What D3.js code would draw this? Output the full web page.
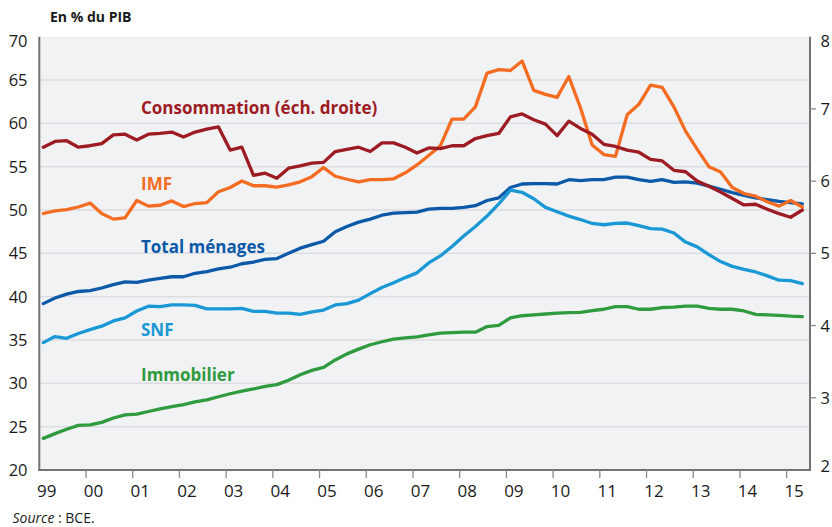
<!DOCTYPE html>
<html>
<head>
<meta charset="utf-8">
<script src="https://cdn.jsdelivr.net/npm/d3@7"></script>
<style>
  html, body { margin: 0; padding: 0; background: #ffffff; }
  svg { display: block; font-family: "Open Sans", "Noto Sans", sans-serif; }
</style>
</head>
<body>
<svg id="chart" width="832" height="527"></svg>
<script>
// ---------- DATA (quarterly, 1999T1 -> 2015T2) ----------
const startYear = 1999;
const nQuarters = 66;
const quarters = d3.range(nQuarters).map(i => (startYear + Math.floor(i / 4)) + "T" + (i % 4 + 1));

const yearLabels = ["99","00","01","02","03","04","05","06","07","08","09","10","11","12","13","14","15"];
const leftTicks = [20,25,30,35,40,45,50,55,60,65,70];
const rightTicks = [2,3,4,5,6,7,8];

// Total ménages (% du PIB, left axis)
const totalMenages = [
  39.2,39.85,40.3,40.6, 40.7,41.0,41.4,41.7, 41.65,41.9,42.1,42.3, 42.3,42.7,42.9,43.2,
  43.4,43.8,44.0,44.3, 44.4,45.0,45.6,46.0, 46.4,47.5,48.1,48.6, 48.95,49.4,49.65,49.7,
  49.75,50.1,50.2,50.2, 50.3,50.5,51.1,51.4, 52.6,53.0,53.05,53.05, 53.0,53.5,53.4,53.5,
  53.5,53.8,53.8,53.5, 53.3,53.5,53.2,53.25, 53.1,52.75,52.4,52.0, 51.7,51.4,51.2,51.0,
  50.85,50.7
];
// SNF (left axis)
const snf = [
  34.7,35.4,35.2,35.75, 36.2,36.6,37.2,37.55, 38.35,38.9,38.85,39.05, 39.05,39.0,38.6,38.6,
  38.6,38.65,38.3,38.3, 38.1,38.1,37.95,38.25, 38.45,39.05,39.2,39.6, 40.35,41.05,41.6,42.2,
  42.75,43.9,44.7,45.8, 47.0,48.1,49.3,50.7, 52.3,52.05,51.3,50.3, 49.8,49.3,48.9,48.45,
  48.3,48.45,48.5,48.2, 47.85,47.8,47.35,46.3, 45.75,44.85,44.05,43.5, 43.15,42.85,42.4,41.9,
  41.85,41.5
];
// Immobilier (left axis)
const immobilier = [
  23.65,24.2,24.7,25.15, 25.2,25.5,26.0,26.35, 26.45,26.75,27.05,27.3, 27.55,27.85,28.1,28.45,
  28.8,29.1,29.35,29.65, 29.85,30.35,31.0,31.5, 31.85,32.7,33.4,33.95, 34.45,34.8,35.1,35.25,
  35.35,35.6,35.8,35.85, 35.9,35.9,36.55,36.7, 37.55,37.8,37.9,38.0, 38.1,38.15,38.2,38.4,
  38.55,38.85,38.85,38.55, 38.55,38.75,38.8,38.9, 38.9,38.65,38.55,38.55, 38.35,37.95,37.9,37.85,
  37.75,37.7
];
// IMF (left axis)
const imf = [
  49.6,49.9,50.05,50.35, 50.8,49.6,48.95,49.1, 51.1,50.45,50.55,51.05, 50.4,50.75,50.85,52.1,
  52.6,53.35,52.8,52.8, 52.65,52.9,53.25,53.85, 54.9,53.9,53.55,53.25, 53.5,53.5,53.6,54.3,
  55.2,56.3,57.4,60.5, 60.5,61.9,65.8,66.2, 66.1,67.2,63.8,63.35, 63.0,65.4,61.8,57.5,
  56.4,56.2,61.0,62.2, 64.4,64.15,61.9,59.1, 57.0,55.0,54.4,52.6, 51.9,51.6,50.95,50.45,
  51.1,50.35
];
// Consommation (right axis)
const consommation = [
  6.47,6.55,6.56,6.47, 6.49,6.52,6.64,6.65, 6.57,6.65,6.66,6.68, 6.61,6.68,6.72,6.75,
  6.43,6.47,6.08,6.11, 6.04,6.18,6.21,6.25, 6.26,6.41,6.44,6.47, 6.41,6.53,6.53,6.47,
  6.39,6.46,6.45,6.49, 6.49,6.59,6.63,6.66, 6.89,6.93,6.85,6.79, 6.63,6.83,6.73,6.65,
  6.51,6.48,6.43,6.40, 6.30,6.28,6.15,6.13, 6.00,5.93,5.85,5.76, 5.67,5.68,5.61,5.55,
  5.50,5.60
];

const seriesNames = ["Total ménages","SNF","Immobilier","IMF","Consommation (éch. droite)"];
const seriesColors = ["#0b59a7","#1a98d5","#2f9a3e","#f36c21","#9d1c24"];

// ---------- LAYOUT ----------
const svg = d3.select("#chart");
const L = 39.3, R = 810, T = 36.7, B = 470;

const x = d3.scaleLinear().domain([1999, 2015.5]).range([L, R]);
const yL = d3.scaleLinear().domain([20, 70]).range([B, T]);
const yR = d3.scaleLinear().domain([2, 8]).range([B, T]);

const qTime = q => {
  const [yy, qq] = q.split("T").map(Number);
  return yy + (qq - 1) / 4 + 0.086;
};

// plot background
svg.append("rect").attr("x", L).attr("y", T).attr("width", R - L).attr("height", B - T)
  .attr("fill", "#f1f2f4");

// gridlines
svg.append("g").selectAll("line").data(leftTicks.filter(v => v > 20 && v < 70)).join("line")
  .attr("x1", L).attr("x2", R).attr("y1", d => yL(d)).attr("y2", d => yL(d))
  .attr("stroke", "#dcdde0").attr("stroke-width", 1.5);

// lines
const makeLine = (vals, scale) => d3.line()
  .x((d, i) => x(qTime(quarters[i])))
  .y(d => scale(d))(vals);

const drawOrder = [
  {vals: totalMenages, scale: yL, color: seriesColors[0]},
  {vals: snf, scale: yL, color: seriesColors[1]},
  {vals: immobilier, scale: yL, color: seriesColors[2]},
  {vals: imf, scale: yL, color: seriesColors[3]},
  {vals: consommation, scale: yR, color: seriesColors[4]}
];
svg.append("g").selectAll("path").data(drawOrder).join("path")
  .attr("d", d => makeLine(d.vals, d.scale))
  .attr("fill", "none").attr("stroke", d => d.color)
  .attr("stroke-width", 3.3).attr("stroke-linejoin", "round").attr("stroke-linecap", "round");

// axes lines
const axisColor = "#737373";
svg.append("line").attr("x1", L).attr("x2", L).attr("y1", T).attr("y2", B + 1)
  .attr("stroke", axisColor).attr("stroke-width", 2);
svg.append("line").attr("x1", R).attr("x2", R).attr("y1", T).attr("y2", B + 1)
  .attr("stroke", axisColor).attr("stroke-width", 2);
svg.append("line").attr("x1", L - 1).attr("x2", R + 1).attr("y1", B).attr("y2", B)
  .attr("stroke", axisColor).attr("stroke-width", 2);

// bottom ticks & labels
const years = d3.range(1999, 2016);
svg.append("g").selectAll("line").data(years.filter(y => y > 1999)).join("line")
  .attr("x1", d => x(d)).attr("x2", d => x(d)).attr("y1", B).attr("y2", B + 8)
  .attr("stroke", "#8a8a8a").attr("stroke-width", 1.3);
svg.append("g").selectAll("text").data(years).join("text")
  .attr("x", d => x(d + 0.16)).attr("y", 496.5)
  .attr("text-anchor", "middle").attr("font-size", 17).attr("fill", "#1a1a1a")
  .text((d, i) => yearLabels[i]);

// left labels
svg.append("g").selectAll("text").data(leftTicks).join("text")
  .attr("x", 27.5).attr("y", d => Math.max(yL(d), 41) + 6)
  .attr("text-anchor", "end").attr("font-size", 16.5).attr("fill", "#1a1a1a")
  .text(d => d);

// right ticks & labels
svg.append("g").selectAll("line").data(rightTicks.filter(v => v > 2 && v < 8)).join("line")
  .attr("x1", R).attr("x2", R + 6).attr("y1", d => yR(d)).attr("y2", d => yR(d))
  .attr("stroke", "#8a8a8a").attr("stroke-width", 1.3);
svg.append("g").selectAll("text").data(rightTicks).join("text")
  .attr("x", 820.5).attr("y", d => Math.min(Math.max(yR(d), 41), 466) + 6)
  .attr("text-anchor", "start").attr("font-size", 16.5).attr("fill", "#1a1a1a")
  .text(d => d);

// title
svg.append("text").attr("x", 50).attr("y", 21.5)
  .attr("font-size", 14).attr("font-weight", 700).attr("fill", "#1a1a1a")
  .text("En % du PIB");

// series labels
const labelPos = [
  {name: seriesNames[4], color: seriesColors[4], y: 114.3},
  {name: seriesNames[3], color: seriesColors[3], y: 190},
  {name: seriesNames[0], color: seriesColors[0], y: 252.7},
  {name: seriesNames[1], color: seriesColors[1], y: 336},
  {name: seriesNames[2], color: seriesColors[2], y: 380.5}
];
svg.append("g").selectAll("text").data(labelPos).join("text")
  .attr("x", 141).attr("y", d => d.y)
  .attr("font-size", 17).attr("font-weight", 700).attr("fill", d => d.color)
  .text(d => d.name);

// source
const src = svg.append("text").attr("x", 12.5).attr("y", 523)
  .attr("font-size", 14).attr("fill", "#1a1a1a");
src.append("tspan").attr("font-style", "italic").text("Source");
src.append("tspan").text(" : BCE.");
</script>
</body>
</html>
